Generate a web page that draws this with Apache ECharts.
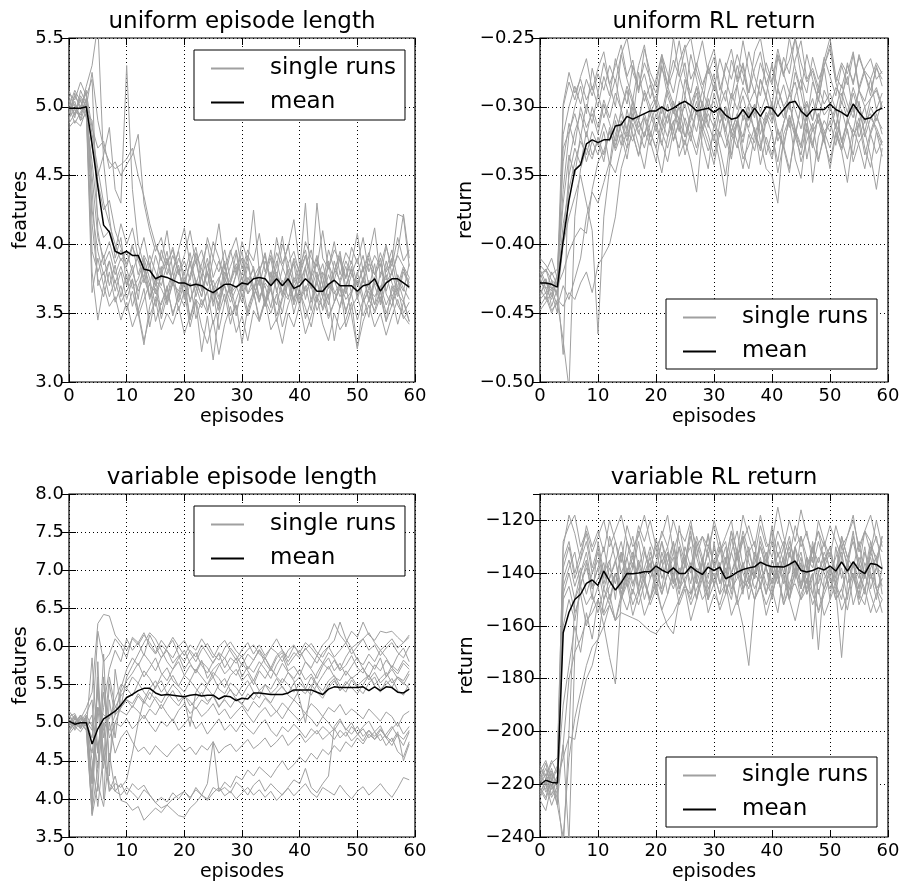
<!DOCTYPE html>
<html>
<head>
<meta charset="utf-8">
<script src="https://cdn.jsdelivr.net/npm/echarts@6/dist/echarts.min.js"></script>
<style>html,body{margin:0;padding:0;background:#fff}#c{width:903px;height:886px}</style>
</head>
<body>
<div id="c"></div>
<script>
// ---------- DATA ----------
const episodes = Array.from({length: 60}, (_, i) => i);

// uniform episode length (features)
const ulenMean = [4.99,4.99,4.99,5.00,4.73,4.42,4.14,4.09,3.95,3.93,3.95,3.92,3.92,3.82,3.81,3.75,3.77,3.76,3.74,3.72,
  3.72,3.70,3.71,3.70,3.67,3.65,3.68,3.71,3.71,3.69,3.72,3.71,3.75,3.76,3.75,3.70,3.75,3.70,3.75,3.68,
  3.70,3.75,3.71,3.66,3.66,3.71,3.74,3.70,3.70,3.70,3.66,3.70,3.71,3.75,3.66,3.72,3.75,3.75,3.72,3.69];
const ulenRuns = [
 [5.02,4.95,5.08,5.00,3.95,3.80,3.92,3.70,3.85,3.62, 3.78,3.55,3.70,3.82,3.60,3.75,3.50,3.68,3.80,3.58, 3.72,3.45,3.66,3.78,3.52,3.70,3.60,3.85,3.64,3.48, 3.72,3.90,3.62,3.75,3.55,3.80,3.67,3.50,3.74,3.86, 3.60,3.70,3.52,3.78,3.65,3.88,3.58,3.72,3.50,3.66, 3.80,3.62,3.47,3.75,3.90,3.64,3.55,3.78,3.68,3.60],
 [4.90,5.10,4.98,5.15,5.30,5.60,4.60,4.20,3.90,4.05, 3.70,3.85,3.60,3.90,3.75,3.55,3.80,3.95,3.70,3.85, 3.60,3.78,3.92,3.66,3.80,3.55,3.74,3.88,3.62,3.79, 3.95,3.70,3.84,3.58,3.76,3.90,3.65,3.82,4.00,3.72, 3.85,3.60,3.78,3.92,3.70,3.56,3.80,3.95,3.68,3.84, 3.62,3.75,3.90,3.70,3.58,3.82,3.96,3.74,3.66,3.86],
 [5.05,4.92,5.12,5.02,4.70,4.50,4.65,4.85,4.40,4.30, 5.30,4.40,4.00,3.85,3.70,3.92,3.78,3.60,3.82,3.95, 3.70,3.88,3.62,3.76,3.90,3.68,3.55,3.80,3.72,3.94, 3.66,3.84,3.70,3.58,3.78,3.96,3.74,3.62,3.86,3.70, 3.55,3.82,3.68,3.90,3.76,3.60,3.88,3.72,3.84,3.64, 3.78,3.92,3.70,3.56,3.80,3.74,3.90,3.66,3.82,3.72],
 [4.95,5.08,5.00,5.10,4.85,4.70,4.75,4.55,4.60,4.50, 4.58,4.65,4.80,4.30,4.10,3.95,4.05,3.85,3.98,3.80, 3.92,4.10,3.86,3.96,3.78,4.02,3.90,3.75,3.94,4.05, 3.82,3.96,3.88,4.08,3.80,3.92,3.76,4.00,3.86,3.95, 3.78,4.02,3.90,3.84,4.10,3.82,3.96,3.88,3.75,3.98, 3.86,4.05,3.80,3.92,3.84,4.00,3.78,3.94,4.22,3.90],
 [4.98,5.02,4.90,4.95,3.65,3.90,3.70,3.55,3.62,3.45, 3.58,3.40,3.52,3.30,3.48,3.60,3.38,3.50,3.42,3.55, 3.35,3.48,3.60,3.40,3.28,3.45,3.20,3.42,3.55,3.36, 3.48,3.30,3.52,3.44,3.60,3.38,3.46,3.28,3.50,3.40, 3.56,3.35,3.48,3.62,3.42,3.30,3.50,3.38,3.45,3.58, 3.25,3.44,3.56,3.40,3.50,3.34,3.48,3.60,3.46,3.52],
 [5.10,5.05,5.18,5.08,5.20,4.10,3.85,3.95,3.78,3.90, 3.82,3.68,3.75,3.88,3.62,3.70,3.84,3.56,3.72,3.66, 3.80,3.58,3.74,3.62,3.86,3.68,3.52,3.76,3.64,3.70, 3.58,3.74,3.82,3.62,3.70,3.54,3.78,3.66,3.60,3.76, 3.68,3.84,3.58,3.72,3.62,3.78,3.66,3.54,3.70,3.82, 3.60,3.74,3.68,3.86,3.56,3.72,3.80,3.64,3.58,3.76],
 [4.88,4.95,5.05,4.92,4.60,4.20,4.05,4.10,3.95,4.15, 4.00,4.12,3.90,4.05,3.84,4.00,3.88,4.10,3.80,3.96, 4.12,3.85,3.98,3.76,4.05,3.90,4.15,3.82,3.96,3.78, 4.02,3.88,4.25,3.80,3.94,3.72,4.05,3.86,3.98,4.18, 3.84,3.96,3.75,4.30,3.90,3.82,4.02,3.78,3.94,3.86, 4.08,3.80,3.92,4.12,3.76,3.98,3.84,4.05,3.88,3.96],
 [5.00,4.88,4.96,5.05,4.40,3.70,3.80,3.62,3.74,3.58, 3.66,3.75,3.52,3.68,3.40,3.62,3.56,3.70,3.48,3.64, 3.55,3.72,3.46,3.60,3.50,3.66,3.38,3.58,3.70,3.52, 3.64,3.48,3.62,3.74,3.55,3.68,3.44,3.60,3.72,3.50, 3.66,3.54,3.40,3.62,3.70,3.48,3.58,3.68,3.52,3.64, 3.45,3.60,3.74,3.56,3.66,3.50,3.62,3.42,3.58,3.44],
 [5.12,5.00,4.94,5.06,4.80,4.55,4.30,4.15,4.00,3.88, 3.95,3.80,3.92,3.72,3.86,3.64,3.78,3.90,3.70,3.82, 3.62,3.76,3.88,3.68,3.80,3.58,3.74,3.86,3.66,3.78, 3.90,3.64,3.76,3.84,3.60,3.72,3.88,3.70,3.82,3.58, 3.76,3.92,3.68,3.80,3.62,3.86,3.74,3.90,3.64,3.78, 3.70,3.84,3.58,3.76,3.66,3.88,3.72,3.62,3.80,3.70],
 [4.85,4.90,4.86,4.98,3.80,3.45,3.70,3.88,3.66,3.80, 3.60,3.74,3.50,3.27,3.55,3.68,3.46,3.62,3.74,3.52, 3.66,3.40,3.58,3.22,3.48,3.16,3.50,3.64,3.42,3.60, 3.72,3.50,3.66,3.44,3.58,3.70,3.48,3.62,3.76,3.56, 3.68,3.46,3.60,3.74,3.52,3.64,3.30,3.56,3.70,3.48, 3.24,3.58,3.66,3.50,3.62,3.44,3.70,3.56,3.48,3.42],
 [5.00,5.12,5.04,4.96,4.90,4.45,4.25,4.32,4.10,3.98, 3.86,4.00,3.78,3.92,3.84,3.70,3.96,3.82,3.74,3.90, 3.78,3.94,3.70,3.86,4.00,3.76,3.88,3.72,3.84,3.96, 3.74,3.86,3.66,3.80,3.92,3.70,3.84,4.06,3.76,3.88, 3.72,3.84,3.96,3.74,3.86,3.68,3.80,3.92,3.76,3.88, 3.70,3.82,3.94,3.78,3.86,3.66,3.80,3.92,3.84,3.76],
 [4.92,4.98,5.06,5.00,5.25,4.90,4.70,4.60,4.55,4.58, 4.62,4.70,4.50,4.35,4.15,4.00,3.90,3.78,3.92,3.80, 3.70,3.86,3.74,3.62,3.80,3.68,3.76,3.58,3.72,3.84, 3.62,3.76,3.68,3.82,3.56,3.70,3.80,3.64,3.74,3.60, 3.78,3.66,3.72,3.58,3.80,3.68,3.74,3.62,3.70,3.82, 3.64,3.76,3.60,3.72,3.66,3.78,3.62,3.70,3.84,3.68],
 [5.08,4.94,5.00,5.12,4.15,3.75,3.62,3.80,3.58,3.70, 3.52,3.66,3.48,3.60,3.72,3.44,3.58,3.68,3.50,3.62, 3.74,3.46,3.60,3.54,3.66,3.42,3.58,3.70,3.48,3.56, 3.28,3.54,3.66,3.46,3.60,3.50,3.64,3.40,3.56,3.68, 3.80,4.30,3.70,3.52,3.62,3.46,3.58,3.70,3.40,3.54, 3.62,3.48,3.60,3.52,3.66,3.44,3.56,3.68,3.50,3.58],
 [4.96,5.04,4.90,5.02,4.50,4.05,3.90,4.02,3.86,3.96, 3.84,3.98,3.88,3.76,3.92,3.80,3.70,3.86,3.96,3.78, 3.88,3.74,3.94,3.82,3.70,3.90,3.80,3.96,3.74,3.86, 3.78,3.92,3.82,3.70,3.88,3.76,3.94,3.84,3.72,3.90, 3.80,3.92,3.76,3.86,3.70,3.96,3.82,3.74,3.88,3.78, 3.90,3.72,3.86,3.78,3.94,3.80,3.88,4.22,4.20,3.84],
 [5.04,4.98,4.92,5.06,4.25,3.95,3.78,3.88,3.72,3.84, 3.70,3.80,3.66,3.76,3.62,3.74,3.68,3.58,3.72,3.64, 3.76,3.60,3.70,3.56,3.66,3.74,3.62,3.70,3.58,3.68, 3.76,3.64,3.70,3.60,3.72,3.66,3.56,3.74,3.62,3.70, 3.58,3.68,3.76,3.62,3.54,3.70,3.64,3.72,3.60,3.66, 3.74,3.58,3.68,3.62,3.70,3.56,3.66,3.74,3.60,3.44]
];

// uniform RL return
const uretMean = [-.428,-.428,-.429,-.431,-.397,-.368,-.346,-.342,-.327,-.324,-.326,-.324,-.324,-.314,-.313,-.307,-.309,-.307,-.305,-.303,
  -.303,-.300,-.303,-.301,-.298,-.296,-.299,-.303,-.302,-.301,-.304,-.301,-.306,-.309,-.308,-.302,-.308,-.301,-.307,-.300,
  -.301,-.307,-.302,-.297,-.296,-.303,-.307,-.302,-.302,-.302,-.298,-.302,-.304,-.307,-.298,-.304,-.309,-.308,-.303,-.301];
const uretRuns = [
 [-.425,-.418,-.432,-.428,-.330,-.318,-.305,-.322,-.298,-.312, -.290,-.308,-.295,-.280,-.302,-.288,-.310,-.275,-.296,-.284, -.300,-.270,-.292,-.305,-.282,-.268,-.298,-.286,-.310,-.290, -.276,-.300,-.288,-.312,-.284,-.270,-.296,-.305,-.280,-.292, -.268,-.298,-.284,-.302,-.275,-.290,-.310,-.282,-.295,-.272, -.300,-.286,-.292,-.278,-.304,-.288,-.296,-.280,-.302,-.290],
 [-.440,-.435,-.448,-.442,-.470,-.505,-.380,-.345,-.330,-.338, -.322,-.335,-.318,-.330,-.312,-.325,-.308,-.320,-.305,-.318, -.330,-.310,-.322,-.300,-.315,-.328,-.305,-.318,-.296,-.312, -.325,-.302,-.316,-.335,-.310,-.322,-.300,-.318,-.330,-.306, -.320,-.340,-.312,-.298,-.316,-.328,-.304,-.318,-.310,-.326, -.300,-.315,-.330,-.308,-.322,-.312,-.335,-.318,-.305,-.320],
 [-.415,-.420,-.410,-.425,-.298,-.275,-.290,-.280,-.295,-.285, -.300,-.278,-.292,-.265,-.284,-.298,-.270,-.288,-.276,-.294, -.280,-.262,-.286,-.274,-.252,-.278,-.290,-.268,-.284,-.272, -.288,-.265,-.280,-.294,-.270,-.284,-.260,-.278,-.292,-.268, -.282,-.258,-.276,-.290,-.266,-.252,-.280,-.272,-.286,-.264, -.278,-.292,-.270,-.284,-.262,-.288,-.274,-.280,-.268,-.276],
 [-.445,-.438,-.450,-.440,-.445,-.435,-.440,-.428,-.420,-.435, -.415,-.408,-.400,-.380,-.345,-.330,-.320,-.335,-.318,-.328, -.312,-.326,-.340,-.318,-.330,-.308,-.322,-.335,-.314,-.326, -.342,-.318,-.330,-.312,-.325,-.345,-.320,-.332,-.310,-.326, -.338,-.316,-.328,-.345,-.322,-.335,-.312,-.326,-.340,-.318, -.330,-.312,-.324,-.338,-.316,-.328,-.345,-.320,-.334,-.325],
 [-.430,-.425,-.438,-.422,-.360,-.320,-.300,-.285,-.305,-.272, -.290,-.268,-.284,-.300,-.262,-.280,-.295,-.270,-.255,-.282, -.298,-.265,-.284,-.250,-.276,-.292,-.262,-.280,-.300,-.270, -.258,-.284,-.296,-.266,-.280,-.252,-.275,-.290,-.268,-.282, -.300,-.264,-.278,-.250,-.272,-.288,-.262,-.280,-.296,-.270, -.255,-.282,-.298,-.268,-.284,-.262,-.276,-.292,-.270,-.285],
 [-.420,-.432,-.428,-.436,-.395,-.350,-.330,-.342,-.318,-.335, -.325,-.340,-.315,-.332,-.320,-.338,-.312,-.328,-.345,-.318, -.330,-.348,-.322,-.310,-.336,-.324,-.340,-.362,-.318,-.332, -.320,-.340,-.365,-.325,-.312,-.338,-.328,-.315,-.342,-.322, -.335,-.318,-.330,-.348,-.316,-.340,-.325,-.312,-.338,-.322, -.345,-.320,-.332,-.316,-.340,-.326,-.318,-.336,-.360,-.330],
 [-.432,-.440,-.426,-.438,-.400,-.380,-.365,-.350,-.370,-.390, -.465,-.380,-.345,-.320,-.305,-.318,-.296,-.310,-.290,-.305, -.295,-.312,-.288,-.302,-.318,-.292,-.306,-.285,-.300,-.315, -.290,-.305,-.318,-.296,-.284,-.310,-.298,-.288,-.304,-.292, -.310,-.286,-.300,-.315,-.292,-.280,-.306,-.294,-.312,-.288, -.298,-.316,-.290,-.304,-.286,-.300,-.312,-.294,-.288,-.302],
 [-.410,-.415,-.422,-.418,-.340,-.312,-.328,-.300,-.315,-.305, -.320,-.298,-.312,-.325,-.302,-.316,-.295,-.310,-.322,-.300, -.315,-.328,-.305,-.318,-.296,-.312,-.325,-.302,-.316,-.294, -.310,-.322,-.300,-.318,-.330,-.306,-.315,-.298,-.326,-.345, -.350,-.370,-.320,-.308,-.322,-.300,-.316,-.328,-.305,-.318, -.312,-.300,-.325,-.310,-.318,-.296,-.322,-.308,-.315,-.326],
 [-.448,-.442,-.435,-.450,-.300,-.282,-.295,-.278,-.265,-.288, -.272,-.260,-.284,-.270,-.255,-.278,-.266,-.290,-.258,-.275, -.285,-.262,-.276,-.290,-.268,-.255,-.280,-.270,-.252,-.276, -.264,-.288,-.272,-.258,-.282,-.268,-.290,-.260,-.250,-.274, -.284,-.262,-.276,-.266,-.250,-.278,-.290,-.264,-.280,-.270, -.258,-.282,-.268,-.276,-.260,-.286,-.272,-.265,-.280,-.274],
 [-.424,-.436,-.420,-.430,-.420,-.405,-.395,-.388,-.392,-.360, -.340,-.332,-.318,-.328,-.310,-.322,-.305,-.318,-.330,-.312, -.300,-.318,-.306,-.324,-.312,-.298,-.316,-.330,-.308,-.320, -.336,-.312,-.300,-.322,-.310,-.326,-.304,-.318,-.332,-.310, -.296,-.318,-.330,-.306,-.320,-.300,-.338,-.315,-.305,-.322, -.310,-.328,-.302,-.318,-.335,-.312,-.300,-.320,-.308,-.316],
 [-.438,-.425,-.445,-.432,-.480,-.340,-.318,-.305,-.322,-.300, -.315,-.295,-.308,-.290,-.302,-.285,-.298,-.310,-.288,-.300, -.292,-.305,-.285,-.298,-.310,-.280,-.296,-.306,-.288,-.300, -.284,-.298,-.310,-.290,-.302,-.286,-.296,-.308,-.280,-.294, -.306,-.288,-.300,-.292,-.282,-.304,-.296,-.310,-.286,-.298, -.290,-.302,-.284,-.298,-.308,-.288,-.300,-.294,-.286,-.300],
 [-.418,-.428,-.434,-.422,-.370,-.335,-.350,-.320,-.340,-.325, -.335,-.318,-.342,-.310,-.328,-.302,-.320,-.336,-.308,-.325, -.340,-.315,-.298,-.325,-.310,-.335,-.318,-.302,-.328,-.345, -.312,-.330,-.350,-.318,-.305,-.332,-.345,-.320,-.308,-.335, -.318,-.348,-.326,-.310,-.338,-.352,-.316,-.330,-.305,-.325, -.340,-.318,-.332,-.355,-.322,-.308,-.330,-.344,-.318,-.336],
 [-.428,-.432,-.440,-.426,-.320,-.300,-.285,-.298,-.280,-.292, -.276,-.288,-.270,-.282,-.262,-.250,-.275,-.286,-.268,-.280, -.290,-.272,-.284,-.266,-.278,-.258,-.250,-.274,-.288,-.270, -.282,-.296,-.268,-.280,-.262,-.276,-.290,-.272,-.260,-.284, -.270,-.286,-.264,-.276,-.250,-.268,-.282,-.274,-.290,-.266, -.250,-.278,-.286,-.270,-.282,-.264,-.276,-.288,-.272,-.280],
 [-.436,-.428,-.432,-.445,-.430,-.440,-.425,-.410,-.380,-.362, -.370,-.355,-.340,-.348,-.330,-.318,-.325,-.310,-.322,-.305, -.318,-.300,-.312,-.296,-.310,-.322,-.304,-.290,-.315,-.302, -.296,-.312,-.300,-.318,-.306,-.292,-.310,-.298,-.320,-.304, -.312,-.296,-.308,-.290,-.302,-.316,-.298,-.310,-.294,-.306, -.300,-.314,-.296,-.308,-.290,-.304,-.318,-.300,-.310,-.296],
 [-.422,-.418,-.426,-.430,-.385,-.360,-.340,-.325,-.335,-.318, -.328,-.312,-.325,-.305,-.318,-.330,-.300,-.315,-.308,-.322, -.305,-.318,-.330,-.312,-.300,-.322,-.310,-.296,-.318,-.305, -.315,-.300,-.322,-.338,-.310,-.302,-.318,-.326,-.306,-.312, -.300,-.325,-.312,-.296,-.318,-.330,-.306,-.355,-.322,-.310, -.318,-.302,-.326,-.312,-.300,-.322,-.310,-.305,-.318,-.328]
];

// variable episode length (features)
const vlenMean = [5.02,4.98,5.00,5.00,4.72,4.92,5.05,5.10,5.15,5.23,5.33,5.37,5.42,5.45,5.45,5.39,5.36,5.37,5.36,5.35,
  5.34,5.36,5.37,5.35,5.36,5.36,5.31,5.35,5.34,5.29,5.32,5.31,5.39,5.39,5.38,5.37,5.37,5.37,5.39,5.43,
  5.43,5.43,5.43,5.40,5.37,5.44,5.47,5.46,5.46,5.46,5.46,5.47,5.42,5.47,5.42,5.47,5.46,5.40,5.39,5.44];
const vlenRuns = [
 [5.10,4.95,5.05,5.20,5.40,6.30,6.42,6.40,6.15,6.05, 5.95,6.10,6.02,6.15,6.05,5.92,6.08,5.98,6.12,6.00, 5.88,6.02,5.95,6.10,5.98,5.85,6.00,6.08,5.94,5.82, 5.96,6.05,5.90,6.02,5.88,5.98,6.10,5.95,5.85,6.00, 5.92,6.05,5.98,5.88,6.02,6.10,6.30,6.15,6.05,6.20, 6.12,6.32,6.15,6.08,6.20,6.18,6.20,6.12,6.05,6.15],
 [4.90,5.05,4.98,4.92,5.85,4.60,5.20,5.70,5.95,5.80, 6.10,5.95,6.05,5.88,6.15,6.00,5.85,5.98,6.08,5.90, 5.80,5.95,5.86,6.02,5.90,5.78,5.92,5.84,5.98,5.88, 5.75,5.90,5.82,5.96,5.85,5.72,5.88,5.95,5.80,5.92, 5.85,5.98,5.88,5.78,5.92,6.00,5.86,5.95,6.05,5.90, 6.00,6.10,5.95,6.02,5.88,5.98,6.05,5.92,5.85,6.00],
 [5.00,5.10,4.92,5.08,4.20,5.60,4.50,5.50,5.10,5.45, 5.70,5.85,5.75,5.90,5.80,5.68,5.85,5.95,5.78,5.88, 5.70,5.82,5.92,5.75,5.65,5.80,5.90,5.72,5.85,5.78, 5.88,5.70,5.82,5.95,5.78,5.68,5.85,5.92,5.75,5.86, 5.95,5.80,5.72,5.88,5.78,5.92,5.84,5.70,5.86,5.98, 5.82,5.76,5.90,5.80,5.95,5.85,5.72,5.88,5.98,5.80],
 [4.85,4.95,5.02,4.90,3.80,5.80,4.00,5.30,4.80,5.40, 5.55,5.65,5.78,5.60,5.72,5.85,5.65,5.55,5.70,5.80, 5.62,5.75,5.68,5.82,5.58,5.70,5.78,5.64,5.72,5.85, 5.60,5.74,5.66,5.80,5.70,5.58,5.76,5.88,5.68,5.74, 5.62,5.80,5.70,5.58,5.75,5.85,5.68,5.78,5.62,5.74, 5.86,5.70,5.60,5.76,5.68,5.82,5.72,5.64,5.78,5.70],
 [5.15,5.05,4.95,5.10,4.95,4.40,5.90,4.30,5.70,5.20, 5.60,5.75,5.90,6.05,6.18,6.10,5.95,5.80,5.70,5.85, 5.95,5.78,5.65,5.80,5.72,5.60,5.75,5.85,5.70,5.62, 5.78,5.68,5.55,5.72,5.85,5.70,5.62,5.78,5.66,5.55, 5.30,5.00,5.45,5.65,5.78,5.70,5.82,5.68,5.75,5.88, 5.72,5.65,5.80,5.70,5.85,5.60,5.75,5.68,5.82,5.74],
 [4.88,5.00,5.08,4.95,4.60,5.20,5.10,5.05,5.30,5.50, 5.45,5.60,5.52,5.68,5.58,5.45,5.62,5.72,5.55,5.48, 5.62,5.55,5.70,5.60,5.50,5.66,5.58,5.46,5.62,5.70, 5.55,5.64,5.50,5.68,5.58,5.72,5.60,5.52,5.66,5.58, 5.70,5.56,5.64,5.50,5.62,5.74,5.60,5.55,5.68,5.58, 5.64,5.72,5.56,5.66,5.52,5.60,5.70,5.58,5.50,5.64],
 [5.02,4.96,5.06,5.00,4.20,5.50,4.80,5.60,5.20,5.35, 5.45,5.35,5.52,5.40,5.30,5.48,5.55,5.38,5.50,5.42, 5.30,4.95,5.40,5.52,5.45,5.35,5.50,5.58,5.42,5.35, 5.48,5.55,5.40,5.32,5.50,5.44,5.58,5.46,5.38,5.52, 5.60,5.45,5.36,5.50,5.42,5.55,5.62,5.48,5.40,5.56, 5.46,5.38,5.52,5.60,5.44,5.50,5.58,5.42,5.36,5.52],
 [4.95,5.08,4.92,5.05,4.50,3.90,4.60,4.10,4.20,4.15, 4.25,4.60,5.00,5.30,5.45,5.55,5.40,5.50,5.62,5.48, 5.40,5.55,5.45,5.35,5.50,5.60,5.44,5.38,5.52,5.46, 5.35,5.48,5.56,5.42,5.50,5.38,5.46,5.58,5.50,5.40, 5.52,5.44,5.60,5.48,5.36,5.50,5.58,5.42,5.54,5.46, 5.38,5.50,5.62,5.48,5.40,5.55,5.46,5.60,5.52,5.45],
 [5.05,4.90,5.02,5.12,5.30,4.10,5.60,4.50,5.00,5.20, 5.30,5.20,5.35,5.25,5.40,5.30,5.18,5.32,5.42,5.28, 5.36,5.22,5.30,5.40,5.28,5.35,5.20,5.32,5.44,5.30, 5.24,5.38,5.30,5.42,5.34,5.26,5.40,5.48,5.36,5.30, 5.44,5.38,5.50,5.40,5.32,5.46,5.55,5.42,5.50,5.60, 5.48,5.56,5.62,5.50,5.58,5.66,5.52,5.60,5.55,5.68],
 [4.92,5.00,5.10,4.98,5.00,4.70,5.00,4.90,5.10,5.20, 5.30,5.25,5.38,5.28,5.20,5.34,5.26,5.40,5.30,5.22, 5.35,5.28,5.18,5.30,5.24,5.36,5.22,5.30,5.20,5.32, 5.25,5.15,5.28,5.20,5.32,5.24,5.14,5.26,5.18,5.30, 5.22,5.12,5.25,5.18,5.08,5.20,5.14,5.24,5.10,5.18, 5.12,5.05,5.18,5.10,5.02,5.14,5.08,4.95,5.10,5.15],
 [5.08,5.12,4.96,5.04,4.00,5.20,4.90,5.10,5.20,5.15, 5.10,5.22,5.15,5.05,5.18,5.10,5.24,5.12,5.02,5.16, 5.25,5.12,5.20,5.08,5.15,5.25,5.10,5.18,5.05,5.14, 5.22,5.10,5.00,5.12,5.20,5.08,5.15,5.05,5.18,5.10, 5.02,5.12,5.05,4.95,5.08,5.00,4.90,5.02,4.92,4.85, 4.95,4.82,4.90,4.78,4.85,4.70,4.80,4.62,4.55,4.75],
 [4.90,4.98,5.05,4.95,5.10,4.60,5.40,4.80,5.00,4.95, 5.05,4.92,5.00,5.10,4.98,4.88,5.02,4.95,5.05,4.90, 4.98,5.08,4.92,5.00,4.85,4.95,5.05,4.90,4.98,4.88, 5.00,4.92,4.85,4.96,5.04,4.90,4.82,4.95,4.88,4.98, 4.90,4.80,4.92,4.85,4.95,4.88,4.78,4.90,4.82,4.95, 4.86,4.76,4.90,4.82,4.92,4.80,4.70,4.85,4.78,4.90],
 [5.00,4.92,5.10,5.02,4.30,5.20,4.40,5.00,4.60,4.80, 4.90,4.75,4.62,4.68,4.58,4.70,4.62,4.55,4.65,4.72, 4.62,4.68,4.58,4.70,4.64,4.75,4.60,4.68,4.72,4.62, 4.70,4.78,4.66,4.72,4.80,4.68,4.75,4.84,4.70,4.78, 4.86,4.74,4.82,4.90,4.78,4.85,4.92,4.80,4.88,4.76, 4.84,4.92,4.80,4.88,4.76,4.85,4.95,4.82,4.70,4.88],
 [5.05,4.95,4.88,5.00,4.80,5.40,4.60,4.20,4.10,4.05, 4.15,4.08,4.00,4.12,4.05,3.95,4.02,3.96,4.08,4.00, 4.10,4.02,4.12,4.05,3.98,4.08,4.15,4.04,4.10,4.00, 4.08,4.15,4.05,4.12,4.02,4.10,3.98,4.06,4.14,4.04, 4.12,4.20,4.08,4.02,4.15,4.10,4.05,4.18,4.08,4.00, 4.10,4.16,4.05,4.12,4.20,4.10,4.02,4.14,4.28,4.25],
 [4.95,5.05,5.00,4.90,3.85,4.40,5.00,4.10,4.30,3.98, 3.95,3.85,3.90,3.72,3.80,3.88,3.82,3.92,3.85,3.78, 3.76,3.88,3.95,4.05,4.00,4.15,4.10,4.22,4.15,4.30, 4.25,4.38,4.30,4.42,4.35,4.28,4.40,4.50,4.38,4.45, 4.55,4.48,4.60,4.52,4.65,4.58,4.70,4.62,4.75,4.68, 4.80,4.72,4.85,4.78,4.90,4.82,4.75,4.88,4.50,4.72],
 [5.10,5.00,4.92,5.08,3.78,4.20,3.90,4.60,4.10,4.20, 4.05,4.20,4.12,4.18,4.05,3.95,3.88,3.92,4.00,4.05, 4.10,4.00,4.15,4.05,4.20,4.75,4.10,4.15,4.08,4.22, 4.15,4.05,4.18,4.25,4.10,4.20,4.12,4.05,4.15,4.25, 4.20,4.40,4.15,4.08,4.20,4.30,4.95,5.05,4.90,5.00, 4.85,4.95,5.02,4.88,4.96,4.80,4.92,5.00,4.85,4.95],
 [5.00,5.08,4.94,5.02,4.90,6.20,5.80,5.90,6.10,6.00, 5.85,6.12,6.05,6.18,6.00,5.90,6.02,5.94,5.85,6.00, 6.08,5.92,5.80,5.96,6.04,5.90,5.82,5.98,6.06,5.94, 5.86,5.96,6.02,5.90,5.84,5.98,5.92,5.80,5.95,6.02, 5.88,5.96,6.04,5.92,5.86,6.00,6.08,6.32,6.10,5.98, 6.04,6.10,6.18,6.05,5.95,6.02,6.10,5.98,6.05,6.12]
];

// variable RL return
const vretMean = [-220.2,-218.5,-219.3,-219.5,-162.6,-154.8,-150.0,-148.0,-143.9,-142.6,-144.7,-139.2,-143.0,-146.4,-143.6,-140.1,-140.2,-139.9,-139.5,-139.5,
  -137.3,-138.8,-139.9,-138.0,-140.1,-140.1,-137.5,-139.2,-140.5,-137.7,-139.0,-137.7,-142.1,-141.1,-139.6,-138.6,-138.0,-137.6,-135.8,-136.9,
  -137.6,-137.6,-137.7,-136.7,-135.4,-139.0,-139.6,-139.0,-138.0,-138.8,-137.3,-139.2,-135.7,-139.2,-135.7,-138.8,-140.2,-136.3,-136.7,-138.3];
const vretRuns = [
 [-218,-222,-215,-220,-135,-128,-140,-132,-125,-138, -130,-142,-126,-135,-145,-128,-138,-124,-132,-140, -127,-136,-130,-144,-122,-134,-140,-128,-136,-125, -138,-130,-142,-127,-135,-124,-132,-140,-128,-136, -122,-134,-128,-140,-130,-126,-138,-132,-124,-136, -130,-142,-126,-134,-128,-138,-124,-132,-120,-130],
 [-225,-220,-228,-222,-245,-200,-150,-140,-135,-145, -138,-150,-142,-135,-148,-140,-132,-145,-138,-130, -142,-135,-148,-138,-130,-144,-136,-150,-140,-132, -145,-138,-130,-142,-150,-136,-144,-132,-140,-148, -135,-142,-150,-138,-130,-145,-140,-134,-148,-138, -132,-144,-138,-150,-136,-142,-130,-146,-138,-140],
 [-214,-218,-212,-210,-130,-118,-125,-135,-122,-130, -124,-132,-120,-128,-136,-122,-130,-126,-118,-128, -134,-124,-130,-120,-128,-136,-122,-130,-126,-134, -120,-128,-136,-124,-132,-118,-126,-134,-122,-130, -128,-115,-126,-134,-122,-130,-124,-136,-120,-128, -134,-122,-130,-126,-118,-132,-124,-128,-136,-126],
 [-220,-216,-224,-218,-210,-202,-203,-190,-180,-175, -165,-150,-145,-140,-148,-138,-145,-135,-142,-150, -138,-146,-132,-140,-148,-136,-144,-130,-142,-150, -136,-144,-138,-148,-132,-140,-146,-134,-142,-138, -150,-136,-144,-132,-140,-146,-138,-130,-144,-136, -142,-148,-134,-140,-136,-146,-132,-140,-150,-138],
 [-222,-226,-218,-228,-150,-145,-155,-148,-160,-152, -145,-155,-148,-158,-150,-142,-152,-146,-156,-150, -144,-154,-148,-140,-152,-146,-158,-150,-142,-155, -148,-152,-144,-156,-150,-160,-175,-150,-145,-152, -146,-155,-140,-150,-158,-148,-142,-152,-146,-156, -150,-144,-154,-148,-140,-152,-146,-155,-148,-142],
 [-216,-220,-214,-222,-205,-180,-170,-165,-158,-155, -150,-156,-152,-158,-155,-156,-157,-158,-160,-162, -163,-160,-158,-155,-150,-145,-148,-142,-150,-146, -140,-148,-144,-150,-138,-146,-142,-150,-136,-144, -148,-140,-152,-144,-138,-150,-146,-140,-155,-148, -142,-150,-146,-138,-152,-144,-140,-148,-155,-150],
 [-219,-214,-221,-217,-190,-175,-160,-170,-155,-165, -150,-160,-172,-182,-150,-140,-148,-136,-144,-132, -140,-128,-136,-144,-130,-138,-126,-134,-142,-130, -136,-128,-140,-132,-124,-138,-130,-142,-126,-134, -140,-128,-136,-130,-142,-126,-134,-138,-128,-136, -130,-140,-126,-134,-138,-128,-142,-132,-126,-138],
 [-223,-219,-225,-221,-142,-135,-145,-138,-148,-140, -135,-146,-138,-144,-132,-142,-136,-148,-140,-134, -146,-138,-132,-144,-140,-134,-148,-138,-142,-136, -144,-136,-148,-140,-132,-146,-138,-142,-134,-148, -138,-144,-136,-150,-142,-134,-148,-140,-169,-142, -138,-146,-172,-144,-136,-150,-140,-134,-146,-142],
 [-215,-211,-218,-213,-128,-122,-118,-130,-124,-132, -126,-120,-130,-124,-118,-128,-134,-122,-128,-120, -130,-126,-118,-132,-124,-128,-120,-134,-126,-130, -122,-132,-126,-120,-134,-128,-122,-130,-118,-128, -134,-124,-130,-120,-128,-116,-126,-132,-124,-130, -122,-128,-134,-126,-120,-130,-124,-118,-128,-132],
 [-226,-230,-220,-228,-240,-210,-195,-185,-175,-168, -165,-160,-152,-158,-148,-154,-146,-152,-144,-150, -142,-148,-140,-146,-138,-144,-150,-140,-136,-146, -142,-136,-148,-140,-134,-144,-138,-146,-140,-132, -144,-138,-130,-146,-140,-136,-148,-142,-134,-140, -146,-138,-132,-144,-140,-148,-136,-142,-138,-145],
 [-217,-223,-219,-214,-138,-130,-142,-135,-128,-140, -132,-144,-136,-128,-140,-134,-126,-138,-130,-142, -136,-128,-140,-132,-144,-130,-138,-126,-134,-142, -130,-138,-144,-132,-140,-126,-136,-142,-130,-138, -144,-132,-140,-128,-136,-146,-134,-165,-140,-132, -138,-144,-130,-136,-142,-134,-140,-128,-146,-155],
 [-213,-217,-211,-216,-160,-150,-158,-145,-152,-148, -155,-146,-152,-140,-150,-144,-156,-148,-142,-152, -146,-154,-160,-163,-150,-144,-152,-146,-140,-150, -144,-154,-148,-140,-152,-146,-142,-150,-144,-156, -148,-140,-152,-146,-144,-150,-142,-148,-154,-146, -140,-150,-146,-154,-142,-148,-152,-140,-146,-150],
 [-221,-225,-216,-226,-205,-242,-170,-140,-132,-145, -138,-130,-142,-136,-128,-140,-134,-146,-132,-138, -130,-142,-136,-128,-140,-134,-130,-144,-136,-126, -138,-132,-128,-140,-134,-126,-142,-136,-130,-138, -128,-140,-134,-126,-138,-132,-144,-130,-136,-128, -140,-134,-128,-138,-126,-136,-142,-130,-134,-128],
 [-218,-212,-222,-219,-145,-138,-132,-145,-136,-150, -128,-140,-135,-150,-132,-145,-138,-128,-142,-136, -148,-132,-140,-128,-146,-136,-124,-142,-134,-150, -128,-144,-136,-124,-140,-148,-132,-128,-146,-136, -124,-142,-134,-150,-130,-138,-146,-128,-140,-134, -150,-130,-142,-136,-124,-140,-148,-132,-138,-126],
 [-224,-218,-216,-220,-148,-140,-150,-144,-138,-146, -142,-136,-150,-140,-146,-134,-144,-138,-150,-142, -136,-148,-140,-134,-146,-142,-138,-150,-136,-144, -140,-148,-134,-146,-142,-136,-150,-140,-144,-138, -146,-136,-142,-150,-138,-144,-134,-148,-140,-146, -138,-144,-150,-136,-142,-140,-146,-138,-134,-148]
];

const titles = ['uniform episode length', 'uniform RL return', 'variable episode length', 'variable RL return'];
const yNames = ['features', 'return', 'features', 'return'];
const yMin = [3.0, -0.50, 3.5, -240];
const yMax = [5.5, -0.25, 8.0, -110];
const yStep = [0.5, 0.05, 0.5, 20];

// ---------- LAYOUT ----------
const FONT = 'DejaVu Sans';
const grids = [
  {left: 69, top: 38, width: 346, height: 344},
  {left: 540, top: 38, width: 348, height: 344},
  {left: 69, top: 494, width: 346, height: 343},
  {left: 540, top: 494, width: 348, height: 343}
];
const nameGapsY = [38, 63, 38, 63];
const legendPos = [{left: 194, top: 50}, {left: 666, top: 299}, {left: 194, top: 506}, {left: 666, top: 757}];
const runsByPanel = [ulenRuns, uretRuns, vlenRuns, vretRuns];
const meanByPanel = [ulenMean, uretMean, vlenMean, vretMean];

const minus = s => s.replace('-', '\u2212');
const yFmt = [
  v => v.toFixed(1),
  v => minus(v.toFixed(2)),
  v => v.toFixed(1),
  v => minus(v.toFixed(0))
];

const xAxes = [], yAxes = [], series = [], titleArr = [], legends = [];
const splitStyle = {show: true, lineStyle: {color: '#000', type: [1, 3], width: 1}};
const tickStyle = {show: true, inside: true, length: 7, lineStyle: {color: '#000', width: 1}};

grids.forEach((g, k) => {
  xAxes.push({
    type: 'value', gridIndex: k, min: 0, max: 60, interval: 10, position: 'bottom',
    name: 'episodes', nameLocation: 'middle', nameGap: 26,
    nameTextStyle: {fontFamily: FONT, fontSize: 19, color: '#000'},
    axisLine: {show: false}, axisTick: tickStyle, splitLine: splitStyle,
    axisLabel: {fontFamily: FONT, fontSize: 18, color: '#000', margin: 5}
  });
  xAxes.push({
    type: 'value', gridIndex: k, min: 0, max: 60, interval: 10, position: 'top',
    axisLine: {show: false}, axisTick: tickStyle, splitLine: {show: false}, axisLabel: {show: false}
  });
  yAxes.push({
    type: 'value', gridIndex: k, min: yMin[k], max: yMax[k], interval: yStep[k], position: 'left',
    name: yNames[k], nameLocation: 'middle', nameGap: nameGapsY[k], nameRotate: 90,
    nameTextStyle: {fontFamily: FONT, fontSize: 19, color: '#000'},
    axisLine: {show: false}, axisTick: tickStyle, splitLine: splitStyle,
    axisLabel: {fontFamily: FONT, fontSize: 18, color: '#000', margin: 5, formatter: yFmt[k], showMaxLabel: k !== 3}
  });
  yAxes.push({
    type: 'value', gridIndex: k, min: yMin[k], max: yMax[k], interval: yStep[k], position: 'right',
    axisLine: {show: false}, axisTick: tickStyle, splitLine: {show: false}, axisLabel: {show: false}
  });
  titleArr.push({
    text: titles[k], left: g.left + g.width / 2, top: g.top - 27, textAlign: 'center', padding: 0,
    textStyle: {fontFamily: FONT, fontSize: 23, fontWeight: 'normal', color: '#000'}
  });
  legends.push({
    data: ['single runs', 'mean'], orient: 'vertical', left: legendPos[k].left, top: legendPos[k].top,
    backgroundColor: '#fff', borderColor: '#000', borderWidth: 1, padding: [7, 9, 6, 16],
    itemWidth: 33, itemHeight: 23, itemGap: 11, selectedMode: false,
    itemStyle: {opacity: 0},
    textStyle: {fontFamily: FONT, fontSize: 23, color: '#000', lineHeight: 23, padding: [0, 0, 0, 21]}
  });
  runsByPanel[k].forEach(run => {
    series.push({
      type: 'line', name: 'single runs', xAxisIndex: 2 * k, yAxisIndex: 2 * k,
      data: run.map((v, i) => [episodes[i], v]), symbol: 'none', showSymbol: false,
      lineStyle: {color: '#a0a0a0', width: 1}, itemStyle: {color: '#a0a0a0'},
      silent: true, z: 2, clip: true
    });
  });
  series.push({
    type: 'line', name: 'mean', xAxisIndex: 2 * k, yAxisIndex: 2 * k,
    data: meanByPanel[k].map((v, i) => [episodes[i], v]), symbol: 'none', showSymbol: false,
    lineStyle: {color: '#000', width: 1.5}, itemStyle: {color: '#000'},
    silent: true, z: 3, clip: true
  });
});

const chart = echarts.init(document.getElementById('c'), null, {renderer: 'canvas'});
chart.setOption({
  animation: false,
  backgroundColor: '#fff',
  title: titleArr,
  legend: legends,
  grid: grids.map(g => Object.assign({show: true, borderColor: '#000', borderWidth: 1.2, backgroundColor: 'transparent', containLabel: false}, g)),
  xAxis: xAxes,
  yAxis: yAxes,
  series: series
});
</script>
</body>
</html>
